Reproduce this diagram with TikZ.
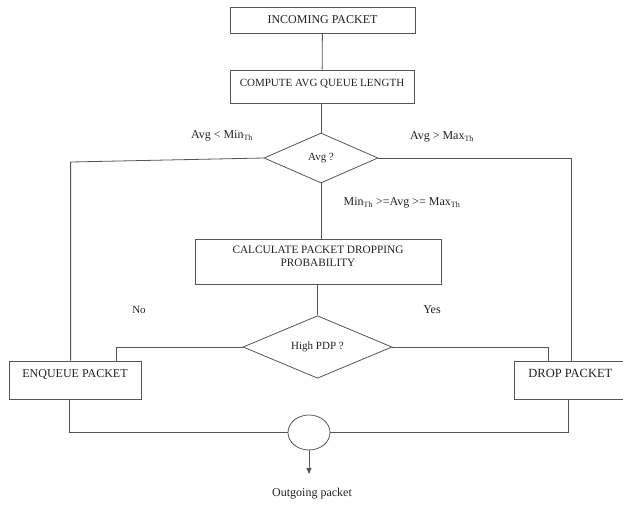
\documentclass[tikz,border=0pt]{standalone}
\usepackage{fontspec}
\setmainfont{Liberation Serif}
\usetikzlibrary{shapes.geometric,arrows.meta,calc}
\definecolor{lin}{HTML}{555555}
\definecolor{txt}{HTML}{222222}
\tikzset{
  box/.style={draw=lin, line width=0.8pt, fill=white, rectangle, inner xsep=0pt, text=txt, font=\fontsize{12}{14}\selectfont},
  dec/.style={draw=lin, line width=0.8pt, diamond, inner sep=0pt, text=txt, font=\fontsize{11}{13}\selectfont},
  lbl/.style={text=txt, font=\fontsize{12}{14}\selectfont, inner sep=1pt},
  con/.style={draw=lin, line width=0.8pt},
}
\begin{document}
\begin{tikzpicture}[x=1pt,y=-1pt]
\useasboundingbox (0,0) rectangle (623,506);
% boxes
\node[box, minimum width=185pt, minimum height=26pt] (inc) at (322.5,20) {INCOMING PACKET};
\node[box, font=\fontsize{11}{13}\selectfont, minimum width=184pt, inner ysep=3pt, text height=13pt, text depth=14pt] (cmp) at (322,86.5) {COMPUTE AVG QUEUE LENGTH};
\node[dec, minimum width=114pt, minimum height=50pt] (avg) at (321,158) {Avg ?};
\node[box, font=\fontsize{11.3}{14}\selectfont, minimum width=246pt, minimum height=45pt] (cal) at (318,261.5) {\raisebox{4pt}[\height][\depth]{\begin{tabular}{@{}c@{}}CALCULATE PACKET DROPPING\\[-1pt]PROBABILITY\end{tabular}}};
\node[dec, minimum width=149pt, minimum height=58pt] (pdp) at (317.5,347) {High PDP ?};
\node[box, minimum width=132pt, inner ysep=4pt, text height=12pt, text depth=18pt] (enq) at (75,380) {ENQUEUE PACKET};
\node[box, font=\fontsize{12.5}{14}\selectfont, minimum width=112pt, inner ysep=4pt, text height=12pt, text depth=18pt, anchor=west] (drp) at (514,380) {DROP PACKET};
\node[draw=lin, line width=0.8pt, ellipse, minimum width=42pt, minimum height=35pt, inner sep=0pt] (out) at (309,432.5) {};
\node[lbl] (og) at (312,494) {Outgoing packet};
\coordinate (ogt) at (309,474);
% labels
\node[lbl] (l1) at (222,136) {Avg < Min\textsubscript{Th}};
\node[lbl] (l2) at (442,137) {Avg > Max\textsubscript{Th}};
\node[lbl] (l3) at (402,203) {Min\textsubscript{Th} >=Avg >= Max\textsubscript{Th}};
\node[lbl, font=\fontsize{11}{13}\selectfont] (l4) at (139,310) {No};
\node[lbl] (l5) at (432,310) {Yes};
% connectors
\draw[con] (inc) -- (cmp);
\draw[con] (cmp.south -| avg.north) -- (avg.north);
\draw[con] (avg.south) -- (avg.south |- cal.north);
\draw[con] (cal.south -| pdp.north) -- (pdp.north);
\draw[con] (avg.west) -- ++(-193,4) coordinate (c1) -- (c1 |- enq.north);
\draw[con] (avg.east) -- (571,158) coordinate (c2) -- (c2 |- drp.north);
\draw[con] (pdp.west) -- (116,347) coordinate (c3) -- (c3 |- enq.north);
\draw[con] (pdp.east) -- (548,347) coordinate (c4) -- (c4 |- drp.north);
\draw[con] (69,399.6) coordinate (c5) -- (c5 |- out.west) -- (out.west);
\draw[con] (568,399.6) coordinate (c6) -- (c6 |- out.east) -- (out.east);
\draw[con, -{Triangle[length=6pt,width=5pt]}] (out.south) -- (ogt);
\end{tikzpicture}
\end{document}
